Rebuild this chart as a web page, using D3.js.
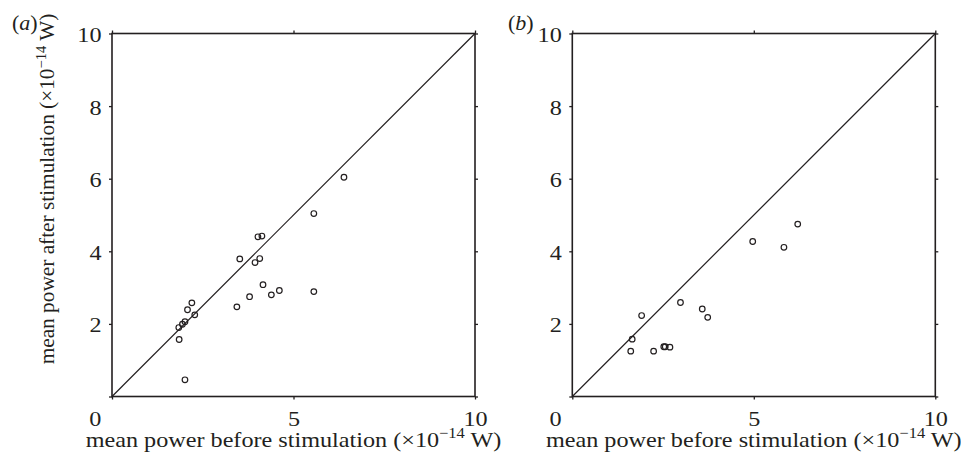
<!DOCTYPE html>
<html>
<head>
<meta charset="utf-8">
<script src="https://cdn.jsdelivr.net/npm/d3@7"></script>
<style>
  body { margin: 0; background: #fff; }
  text { font-family: "Liberation Serif", "Times New Roman", serif; fill: #231f20; }
</style>
</head>
<body>
<div id="chart"></div>
<script>

// panel (a) values, x10^-14 W
var beforeA = [6.39, 5.56, 4.02, 4.13, 3.52, 4.07, 3.94, 4.16, 4.61, 4.39, 3.79, 3.44, 5.56,
               2.20, 2.08, 2.28, 2.01, 1.94, 1.84, 1.85, 2.01];
var afterA  = [6.04, 5.04, 4.40, 4.42, 3.79, 3.80, 3.69, 3.08, 2.92, 2.80, 2.75, 2.47, 2.89,
               2.58, 2.39, 2.25, 2.06, 1.99, 1.90, 1.57, 0.46];

// panel (b)
var beforeB = [6.21, 4.97, 5.83, 2.98, 3.58, 3.73, 1.91, 1.65, 1.61, 2.24, 2.52, 2.56, 2.69];
var afterB  = [4.75, 4.27, 4.11, 2.59, 2.41, 2.18, 2.23, 1.58, 1.25, 1.25, 1.37, 1.37, 1.36];

var xTicks = [0, 5, 10];
var yTicks = [0, 2, 4, 6, 8, 10];
var panelLabels = ["a", "b"];

var margin = { top: 33.5 };
var size = 363;
var panelLeft = [112, 572.3];
var labelX = [12, 508];
var stretch = 1.1;   // the horizontal type in the figure is a little wide

var svg = d3.select("#chart")
  .append("svg")
    .attr("width", 961)
    .attr("height", 456);

svg.append("rect")
  .attr("width", 961)
  .attr("height", 456)
  .attr("fill", "#fff");

var panels = [
  { label: panelLabels[0], xs: beforeA, ys: afterA, left: panelLeft[0], lx: labelX[0], yTitle: true },
  { label: panelLabels[1], xs: beforeB, ys: afterB, left: panelLeft[1], lx: labelX[1], yTitle: false }
];

// widen a text horizontally while keeping its anchor x
function widen(sel, xpos) {
  sel.attr("transform", "scale(" + stretch + ",1)")
    .attr("x", function (d) { return xpos(d) / stretch });
}

panels.forEach(function (p) {

  var g = svg.append("g")
    .attr("transform", "translate(" + p.left + "," + margin.top + ")");

  var x = d3.scaleLinear().domain([0, 10]).range([0, size]);
  var y = d3.scaleLinear().domain([0, 10]).range([size, 0]);

  // axes, ticks outward on all four sides
  var bottom = g.append("g")
    .attr("transform", "translate(0," + size + ")")
    .call(d3.axisBottom(x).tickValues(xTicks).tickSize(3).tickSizeOuter(0).tickPadding(11));

  g.append("g")
    .call(d3.axisTop(x).tickValues(xTicks).tickSize(3).tickSizeOuter(0).tickFormat(""));

  var left = g.append("g")
    .call(d3.axisLeft(y).tickValues(yTicks).tickSize(3).tickSizeOuter(0).tickPadding(7.5)
      .tickFormat(function (d) { return d === 0 ? "" : d }));

  g.append("g")
    .attr("transform", "translate(" + size + ",0)")
    .call(d3.axisRight(y).tickValues(yTicks).tickSize(3).tickSizeOuter(0).tickFormat(""));

  g.selectAll(".domain").remove();
  g.selectAll(".tick line").attr("stroke", "#231f20").attr("stroke-width", 1.3);
  g.selectAll(".tick text")
    .attr("font-family", "Liberation Serif")
    .attr("font-size", 22)
    .attr("fill", "#231f20");

  widen(bottom.selectAll(".tick text"), function (d) { return d === 0 ? -17.3 : 0 });
  widen(left.selectAll(".tick text"), function () { return -10.5 });
  left.selectAll(".tick text").attr("dy", "0.36em");

  g.append("rect")
    .attr("width", size)
    .attr("height", size)
    .attr("fill", "none")
    .attr("stroke", "#231f20")
    .attr("stroke-width", 1.6);

  // y = x reference line
  g.append("line")
    .attr("x1", x(0)).attr("y1", y(0))
    .attr("x2", x(10)).attr("y2", y(10))
    .attr("stroke", "#231f20")
    .attr("stroke-width", 1.2);

  g.selectAll(".circ")
    .data(d3.range(p.xs.length)).enter()
    .append("circle")
      .attr("class", "circ")
      .attr("cx", function (i) { return x(p.xs[i]) })
      .attr("cy", function (i) { return y(p.ys[i]) })
      .attr("r", 2.8)
      .attr("fill", "none")
      .attr("stroke", "#231f20")
      .attr("stroke-width", 1.2);

  // x title
  var xt = g.append("text")
    .attr("transform", "translate(" + (size / 2) + "," + (size + 50) + ") scale(" + stretch + ",1)")
    .attr("text-anchor", "middle")
    .attr("font-size", 22);
  xt.append("tspan").text("mean power before stimulation (\u00d710");
  xt.append("tspan").attr("dy", -9).attr("font-size", 15).text("\u221214");
  xt.append("tspan").attr("dy", 9).text(" W)");

  if (p.yTitle) {
    var yt = g.append("text")
      .attr("transform", "translate(" + (-58) + "," + 155.5 + ") rotate(-90)")
      .attr("text-anchor", "middle")
      .attr("font-size", 21.3);
    yt.append("tspan").text("mean power after stimulation (\u00d710");
    yt.append("tspan").attr("dy", -8.5).attr("font-size", 14.5).text("\u221214");
    yt.append("tspan").attr("dy", 8.5).text(" W)");
  }

  // panel label
  var lab = svg.append("text")
    .attr("transform", "translate(" + p.lx + ",30) scale(" + stretch + ",1)")
    .attr("font-size", 20);
  lab.append("tspan").text("(");
  lab.append("tspan").attr("font-style", "italic").text(p.label);
  lab.append("tspan").text(")");
});

</script>
</body>
</html>
